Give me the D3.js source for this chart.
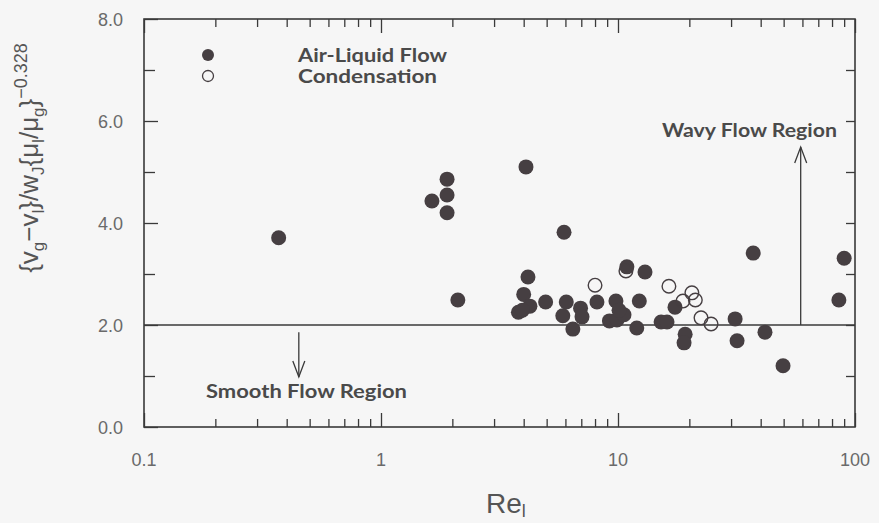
<!DOCTYPE html>
<html>
<head>
<meta charset="utf-8">
<script src="https://cdn.jsdelivr.net/npm/d3@7"></script>
<style>
  html, body { margin: 0; padding: 0; background: #f6f6f6; }
  svg { display: block; }
</style>
</head>
<body>
<svg id="chart" width="879" height="523"></svg>
<script>
// ---- data ----
const airLiquidRe = [0.37, 1.64, 1.90, 1.90, 1.90, 2.11, 4.09, 5.92, 4.17, 4.00, 4.25, 3.80, 3.95,
  4.95, 6.05, 5.85, 6.45, 6.95, 7.05, 8.15, 9.8, 9.2, 9.9, 10.6, 10.1, 10.9, 13.0, 12.3, 12.0,
  15.2, 16.1, 17.4, 19.2, 19.0, 31.2, 31.8, 41.7, 49.7, 37.2, 90, 85.5];
const airLiquidY = [3.71, 4.43, 4.86, 4.55, 4.20, 2.49, 5.10, 3.82, 2.94, 2.60, 2.37, 2.25, 2.29,
  2.45, 2.45, 2.18, 1.92, 2.33, 2.16, 2.45, 2.47, 2.08, 2.10, 2.20, 2.29, 3.14, 3.04, 2.47, 1.94,
  2.06, 2.06, 2.35, 1.82, 1.65, 2.12, 1.69, 1.86, 1.20, 3.41, 3.31, 2.49];
const condensationRe = [8.0, 10.8, 16.4, 18.8, 20.5, 21.2, 22.4, 24.7];
const condensationY  = [2.78, 3.06, 2.76, 2.47, 2.63, 2.49, 2.14, 2.02];
const xMajorTicks = [0.1, 1, 10, 100];
const xTickLabels = ["0.1", "1", "10", "100"];
const yMajorTicks = [0, 2, 4, 6, 8];
const yTickLabels = ["0.0", "2.0", "4.0", "6.0", "8.0"];
const yMinorTicks = [1, 3, 5, 7];
const yRightTicks = [1, 2, 3, 4, 5, 6, 7];
const boundaryY = 2.0;
const wavyArrowRe = 59;
const smoothArrowRe = 0.45;
const legendLabels = ["Air-Liquid Flow", "Condensation"];

// ---- layout ----
const L = 144, R = 855, T = 19, B = 427;
const svg = d3.select("#chart");
const x = d3.scaleLog().domain([0.1, 100]).range([L, R]);
const y = d3.scaleLinear().domain([0, 8]).range([B, T]);
const ink = "#3a3a3a";
const markColor = "#463f42";

const xMinor = [];
for (let d = 0.1; d < 100; d *= 10) for (let k = 2; k <= 9; k++) xMinor.push(+(d * k).toPrecision(3));

function styleAxis(g) {
  g.select(".domain").remove();
  g.selectAll(".tick line").attr("stroke", ink).attr("stroke-width", 1.3);
  g.selectAll(".tick text").remove();
}

// bottom ticks (inward)
svg.append("g").attr("transform", `translate(0,${B})`)
  .call(d3.axisBottom(x).tickValues(xMajorTicks).tickSize(-14).tickFormat("")).call(styleAxis);
svg.append("g").attr("transform", `translate(0,${B})`)
  .call(d3.axisBottom(x).tickValues(xMinor).tickSize(-8).tickFormat("")).call(styleAxis);
// top ticks (inward)
svg.append("g").attr("transform", `translate(0,${T})`)
  .call(d3.axisTop(x).tickValues(xMajorTicks).tickSize(-14).tickFormat("")).call(styleAxis);
svg.append("g").attr("transform", `translate(0,${T})`)
  .call(d3.axisTop(x).tickValues(xMinor).tickSize(-8).tickFormat("")).call(styleAxis);
// left ticks (inward)
svg.append("g").attr("transform", `translate(${L},0)`)
  .call(d3.axisLeft(y).tickValues(yMajorTicks).tickSize(-14).tickFormat("")).call(styleAxis);
svg.append("g").attr("transform", `translate(${L},0)`)
  .call(d3.axisLeft(y).tickValues(yMinorTicks).tickSize(-11).tickFormat("")).call(styleAxis);
// right ticks (inward)
svg.append("g").attr("transform", `translate(${R},0)`)
  .call(d3.axisRight(y).tickValues(yRightTicks).tickSize(-9).tickFormat("")).call(styleAxis);

// frame
svg.append("rect").attr("x", L).attr("y", T).attr("width", R - L).attr("height", B - T)
  .attr("fill", "none").attr("stroke", ink).attr("stroke-width", 1.6);

// tick labels
const tickFont = "'Liberation Sans', Arial, sans-serif";
svg.append("g").selectAll("text").data(xMajorTicks).join("text")
  .attr("x", d => x(d)).attr("y", 466).attr("text-anchor", "middle")
  .attr("font-family", tickFont).attr("font-size", 18).attr("fill", "#6a6a6a")
  .text((d, i) => xTickLabels[i]);
svg.append("g").selectAll("text").data(yMajorTicks).join("text")
  .attr("x", 123).attr("y", d => y(d) + 6.5).attr("text-anchor", "end")
  .attr("font-family", tickFont).attr("font-size", 18).attr("fill", "#6a6a6a")
  .text((d, i) => yTickLabels[i]);

// boundary line
svg.append("line").attr("x1", x(0.1)).attr("x2", x(100)).attr("y1", y(boundaryY)).attr("y2", y(boundaryY))
  .attr("stroke", ink).attr("stroke-width", 1.5);

// arrows
function arrow(xv, y0, y1) {
  const px = x(xv), p0 = y(y0), p1 = y(y1);
  const dir = p1 < p0 ? 1 : -1;
  svg.append("line").attr("x1", px).attr("x2", px).attr("y1", p0).attr("y2", p1)
    .attr("stroke", ink).attr("stroke-width", 1.3);
  svg.append("path").attr("d", `M${px - 6},${p1 + dir * 16} L${px},${p1} L${px + 6},${p1 + dir * 16}`)
    .attr("fill", "none").attr("stroke", ink).attr("stroke-width", 1.3);
}
arrow(wavyArrowRe, boundaryY, 5.49);
arrow(smoothArrowRe, 1.86, 0.98);

// annotation text
const labFont = "Lato, 'DejaVu Sans', sans-serif";
function label(txt, xx, yy, len) {
  svg.append("text").attr("x", xx).attr("y", yy).attr("font-family", labFont)
    .attr("font-weight", 700).attr("font-size", 18).attr("fill", "#4a4a4a")
    .attr("textLength", len).attr("lengthAdjust", "spacingAndGlyphs").text(txt);
}
label("Wavy Flow Region", 662, 137, 175);
label("Smooth Flow Region", 206, 398, 201);
label(legendLabels[0], 298, 62, 149);
label(legendLabels[1], 298, 83, 139);

// legend markers
svg.append("circle").attr("cx", 208).attr("cy", 55).attr("r", 6).attr("fill", markColor);
svg.append("circle").attr("cx", 208).attr("cy", 76).attr("r", 5.5).attr("fill", "none")
  .attr("stroke", markColor).attr("stroke-width", 1.3);

// data points
const filled = airLiquidRe.map((re, i) => ({re, v: airLiquidY[i]}));
const open = condensationRe.map((re, i) => ({re, v: condensationY[i]}));
svg.append("g").selectAll("circle").data(filled).join("circle")
  .attr("cx", d => x(d.re)).attr("cy", d => y(d.v)).attr("r", 7.5).attr("fill", markColor);
svg.append("g").selectAll("circle").data(open).join("circle")
  .attr("cx", d => x(d.re)).attr("cy", d => y(d.v)).attr("r", 6.8).attr("fill", "none")
  .attr("stroke", markColor).attr("stroke-width", 1.4);

// axis titles
svg.append("text").attr("x", 486).attr("y", 513).attr("font-family", tickFont)
  .attr("font-size", 28).attr("fill", "#555")
  .call(t => { t.append("tspan").text("Re"); t.append("tspan").attr("font-size", 18).attr("dy", 4).text("l"); });

const yt = svg.append("text").attr("transform", "translate(38,158) rotate(-90)")
  .attr("text-anchor", "middle").attr("font-family", tickFont).attr("font-size", 26).attr("fill", "#555");
const parts = [["{v", 0, 26], ["g", 6, 17], ["−v", -6, 26], ["l", 6, 17], ["}/w", -6, 26], ["J", 6, 17],
  ["{μ", -6, 26], ["l", 6, 17], ["/μ", -6, 26], ["g", 6, 17], ["}", -6, 26], ["−0.328", -11, 18]];
parts.forEach(([t, dy, fs]) => yt.append("tspan").attr("dy", dy).attr("font-size", fs).text(t));
</script>
</body>
</html>
